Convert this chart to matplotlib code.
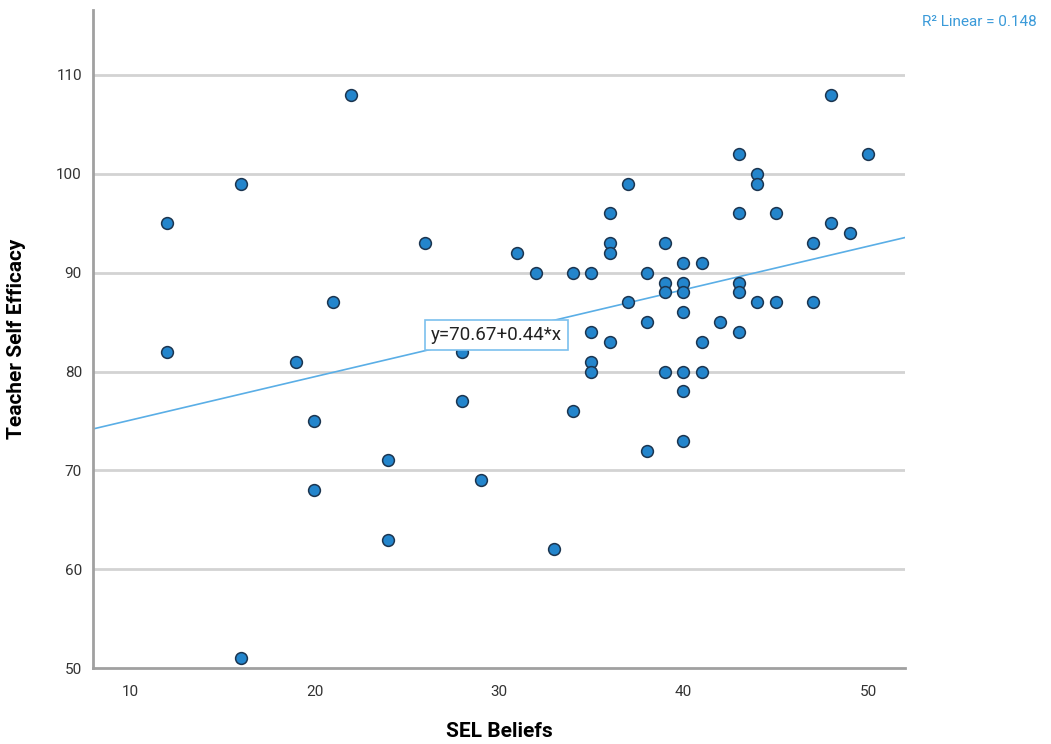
import matplotlib
matplotlib.use("Agg")
import numpy as np
import matplotlib.pyplot as plt

# ------------------------------------------------------------
# data (SEL Beliefs vs Teacher Self Efficacy)
# ------------------------------------------------------------
sel_beliefs = [12, 12, 16, 16, 19, 20, 20, 21, 22, 24, 24, 26, 28, 28, 29,
               31, 32, 33, 34, 34, 35, 35, 35, 35, 36, 36, 36, 36, 37, 37,
               38, 38, 38, 39, 39, 39, 39, 40, 40, 40, 40, 40, 40, 40, 41,
               41, 41, 42, 43, 43, 43, 43, 43, 44, 44, 44, 45, 45, 47, 47,
               48, 48, 49, 50]
self_efficacy = [95, 82, 51, 99, 81, 75, 68, 87, 108, 71, 63, 93, 82, 77, 69,
                 92, 90, 62, 90, 76, 90, 84, 81, 80, 96, 93, 92, 83, 99, 87,
                 90, 85, 72, 93, 89, 88, 80, 91, 89, 88, 86, 80, 78, 73, 91,
                 83, 80, 85, 102, 96, 89, 88, 84, 100, 99, 87, 96, 87, 93, 87,
                 108, 95, 94, 102]

fit_intercept = 70.67
fit_slope = 0.44
r2_text = "R² Linear = 0.148"
fit_text = "y=70.67+0.44*x"

x_ticks = [10, 20, 30, 40, 50]
y_ticks = [50, 60, 70, 80, 90, 100, 110]

plt.rcParams["font.family"] = ["Roboto", "DejaVu Sans"]

fig = plt.figure(figsize=(10.51, 7.44), dpi=100)
ax = fig.add_axes([0.0885, 0.102, 0.7725, 0.885])

XMIN, XMAX = 8, 52
YMIN, YMAX = 50, 116.6
ax.set_xlim(XMIN, XMAX)
ax.set_ylim(YMIN, YMAX)

# grid lines
for yv in y_ticks[1:]:
    ax.axhline(yv, color="#d3d3d3", lw=2, zorder=0)

# fit line
xs = np.array([XMIN, XMAX])
ax.plot(xs, fit_intercept + fit_slope * xs, color="#5aaee6", lw=1.2, zorder=2)

ax.scatter(sel_beliefs, self_efficacy, s=72, color="#2385cc",
           edgecolor="#1b3550", linewidth=1.1, zorder=3)

ax.text(29.86, 83.7, fit_text, ha="center", va="center", fontsize=13.5,
        color="#222222", zorder=4,
        bbox=dict(boxstyle="square,pad=0.3", fc="white", ec="#7cc0ee", lw=1.2))

for side in ["top", "right"]:
    ax.spines[side].set_visible(False)
for side in ["left", "bottom"]:
    ax.spines[side].set_color("#a0a0a0")
    ax.spines[side].set_linewidth(2)

ax.set_xticks(x_ticks)
ax.set_yticks(y_ticks)
ax.tick_params(length=0, labelsize=11, labelcolor="#333333")
ax.tick_params(axis="x", pad=12)
ax.tick_params(axis="y", pad=8)

ax.set_xlabel("SEL Beliefs", fontsize=15, fontweight="bold", labelpad=17)
ax.set_ylabel("Teacher Self Efficacy", fontsize=15, fontweight="bold", labelpad=22)

fig.text(0.932, 0.97, r2_text, ha="center", va="center", fontsize=11,
         color="#3a9ad9")

fig.savefig("out.png", dpi=100)
